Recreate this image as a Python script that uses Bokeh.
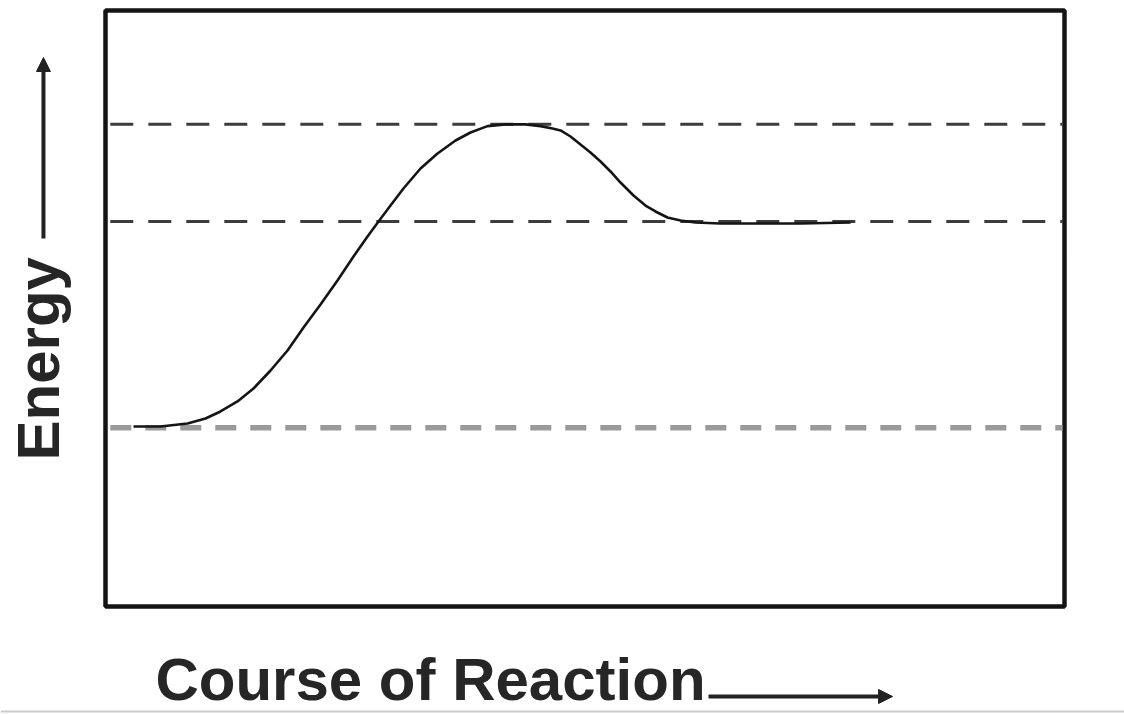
from bokeh.plotting import figure
from bokeh.models import Range1d, Arrow, NormalHead
from bokeh.core.properties import value
from bokeh.embed import file_html
from bokeh.resources import INLINE

# Energy levels (arbitrary energy units; the boxed plot spans 0-100)
level_names = ["reactants", "transition state", "products"]
level_values = [30.0, 80.9, 64.6]

# Reaction coordinate profile
progress = [2.92, 5.74, 8.55, 10.43, 11.99, 13.76, 15.43, 17.21, 18.98, 20.65,
            22.42, 24.19, 25.86, 27.32, 28.47, 29.72, 31.07, 32.85, 34.62, 36.50,
            38.06, 39.83, 41.71, 43.80, 45.36, 46.61, 47.45, 48.49, 49.53, 50.57,
            51.62, 52.66, 53.70, 55.06, 56.31, 57.35, 58.60, 59.96, 61.52, 64.13,
            68.30, 72.47, 77.69]
energy = [30.20, 30.20, 30.70, 31.54, 32.72, 34.40, 36.58, 39.60, 42.95, 46.81,
          50.67, 54.70, 58.72, 62.08, 64.60, 67.28, 70.13, 73.49, 76.01, 78.19,
          79.53, 80.60, 80.90, 80.90, 80.60, 80.20, 79.87, 78.86, 77.52, 76.17,
          74.66, 72.99, 71.14, 68.96, 67.28, 66.28, 65.27, 64.77, 64.43, 64.26,
          64.26, 64.26, 64.43]

x_label = "Course of Reaction"
y_label = "Energy"

# plot box limits in data space
X0, X1, Y0, Y1 = 0, 100, 0, 100

W, H = 1124, 714
p = figure(width=W, height=H, output_backend="svg", toolbar_location=None,
           x_axis_location=None, y_axis_location=None,
           x_range=Range1d(-10.949, 106.256), y_range=Range1d(-18.121, 101.678),
           min_border=0)
p.min_border_left = p.min_border_right = p.min_border_top = p.min_border_bottom = 0
p.grid.visible = False
p.outline_line_color = None
p.background_fill_color = "white"
p.border_fill_color = "white"

# frame box
p.quad(left=[X0], right=[X1], bottom=[Y0], top=[Y1], fill_color=None,
       line_color="#141414", line_width=4.5)

# dashed energy levels
styles = {
    "reactants": dict(line_color="#9a9a9a", line_width=5.5, line_dash="21 14"),
    "transition state": dict(line_color="#3c3c3c", line_width=3, line_dash="23 15"),
    "products": dict(line_color="#3c3c3c", line_width=3, line_dash="23 15"),
}
for name, val in zip(level_names, level_values):
    p.segment(x0=[X0 + 0.5], x1=[X1 - 0.2], y0=[val], y1=[val], **styles[name])

p.line(progress, energy, line_color="#151515", line_width=2.6)

# axis titles with arrows
p.text(x=[-6.99], y=[24.5], text=[y_label], angle=1.5708,
       text_font=value("Liberation Sans"), text_font_size="60px", text_font_style="bold",
       text_color="#262626", text_align="left", text_baseline="alphabetic")
p.add_layout(Arrow(x_start=-6.47, y_start=61.74, x_end=-6.47, y_end=92.11,
                   line_color="#222222", line_width=4,
                   end=NormalHead(size=14, line_color="#222222", fill_color="#222222")))
p.text(x=[5.21], y=[-12.25], text=[x_label],
       text_font=value("Liberation Sans"), text_font_size="60px", text_font_style="bold",
       text_color="#262626", text_align="left", text_baseline="alphabetic")
p.add_layout(Arrow(x_start=62.88, y_start=-15.10, x_end=82.07, y_end=-15.10,
                   line_color="#222222", line_width=4,
                   end=NormalHead(size=14, line_color="#222222", fill_color="#222222")))
# faint separator at the bottom edge
p.add_layout(Arrow(x_start=-10.95, y_start=-17.62, x_end=106.26, y_end=-17.62,
                   line_color="#cccccc", line_width=2, end=None))

open("out.html", "w").write(file_html(p, INLINE))
